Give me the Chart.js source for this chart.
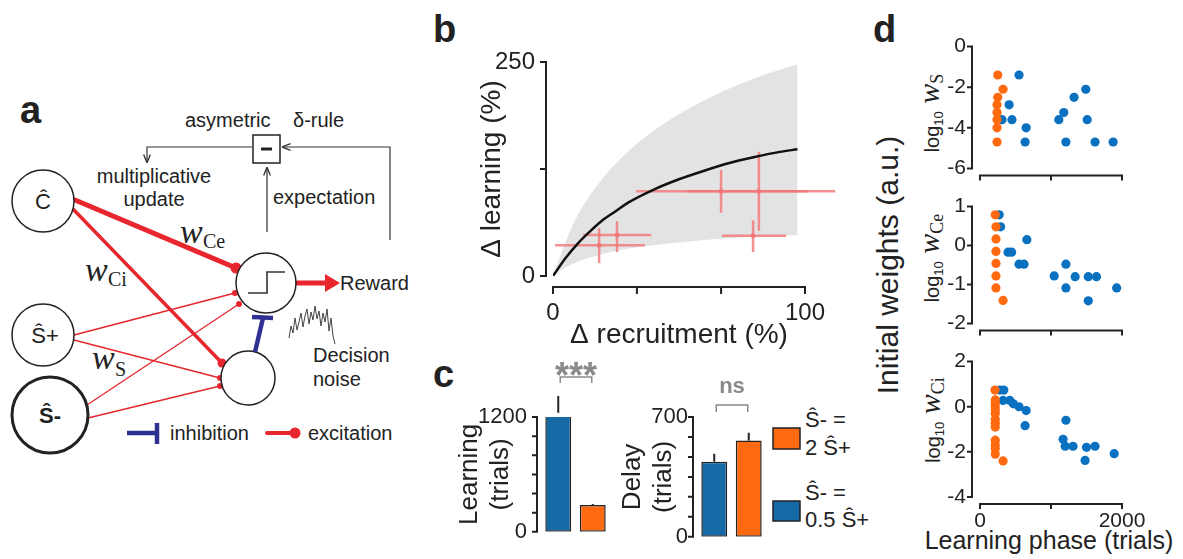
<!DOCTYPE html>
<html>
<head>
<meta charset="utf-8">
<script src="https://cdn.jsdelivr.net/npm/chart.js@4.4.1/dist/chart.umd.min.js"></script>
<style>
  html, body { margin: 0; padding: 0; background: #fff; }
  #fig { position: relative; width: 1183px; height: 559px; overflow: hidden; background: #fff; }
  #fig canvas { position: absolute; }
  #art { position: absolute; left: 0; top: 0; }
</style>
</head>
<body>
<div id="fig">
<svg id="art" width="1183" height="559" font-family="Liberation Sans, Arial, sans-serif" fill="#222">
  <defs>
    <marker id="ah" viewBox="0 0 10 10" refX="9" refY="5" markerWidth="7" markerHeight="7" orient="auto">
      <path d="M0,1 L10,5 L0,9" fill="none" stroke="#333" stroke-width="1.6"/>
    </marker>
  </defs>

  <!-- panel letters -->
  <g font-weight="bold" font-size="38">
    <text x="20" y="123">a</text>
    <text x="433" y="42">b</text>
    <text x="433" y="387">c</text>
    <text x="873" y="42">d</text>
  </g>

  <!-- panel a: network sketch -->
  <g font-size="20">
    <text x="185" y="127">asymetric</text>
    <text x="293" y="127">δ-rule</text>
    <text x="154" y="183" text-anchor="middle">multiplicative</text>
    <text x="154" y="206" text-anchor="middle">update</text>
    <text x="273" y="204">expectation</text>
    <text x="340" y="290">Reward</text>
    <text x="313" y="362">Decision</text>
    <text x="313" y="386">noise</text>
    <text x="170" y="440">inhibition</text>
    <text x="308" y="440">excitation</text>
  </g>
  <rect x="253" y="135" width="27" height="28" fill="none" stroke="#222" stroke-width="1.5"/>
  <line x1="261" y1="149" x2="272" y2="149" stroke="#222" stroke-width="3"/>
  <g fill="none" stroke="#333" stroke-width="1.2">
    <path d="M252,147 H147 V162" marker-end="url(#ah)"/>
    <path d="M390,240 V147 H283" marker-end="url(#ah)"/>
    <path d="M267,232 V168" marker-end="url(#ah)"/>
  </g>

  <!-- red connections -->
  <g stroke="#e8262d" fill="none" stroke-linecap="round">
    <line x1="75" y1="200" x2="236" y2="268" stroke-width="5"/>
    <line x1="72" y1="208" x2="222" y2="363" stroke-width="3.5"/>
    <line x1="74" y1="335" x2="235" y2="293" stroke-width="1.3"/>
    <line x1="74" y1="340" x2="220" y2="378" stroke-width="1.3"/>
    <line x1="87" y1="405" x2="239" y2="304" stroke-width="1.3"/>
    <line x1="88" y1="418" x2="220" y2="386" stroke-width="1.3"/>
    <line x1="297" y1="283" x2="328" y2="283" stroke-width="5"/>
    <line x1="267" y1="433" x2="292" y2="433" stroke-width="4"/>
  </g>
  <g fill="#e8262d">
    <circle cx="236" cy="268" r="5.5"/>
    <circle cx="222" cy="363" r="4.5"/>
    <circle cx="235" cy="293" r="3"/>
    <circle cx="220" cy="378" r="3"/>
    <circle cx="239" cy="304" r="3"/>
    <circle cx="220" cy="386" r="3"/>
    <circle cx="295" cy="433" r="5.5"/>
    <polygon points="325,274 340,283 325,292"/>
  </g>

  <!-- nodes -->
  <g fill="#fff" stroke="#222" stroke-width="1.5">
    <circle cx="43" cy="201" r="31"/>
    <circle cx="43" cy="335" r="31"/>
    <circle cx="50" cy="415" r="38" stroke-width="3"/>
    <circle cx="266" cy="283" r="30"/>
    <circle cx="248" cy="378" r="27"/>
  </g>
  <g font-size="22" text-anchor="middle">
    <text x="43" y="209">Ĉ</text>
    <text x="45" y="343">Ŝ+</text>
    <text x="50" y="423" font-weight="bold">Ŝ-</text>
  </g>
  <polyline points="248,293 267,293 267,272 285,272" fill="none" stroke="#333" stroke-width="1.6"/>

  <!-- inhibition -->
  <g stroke="#2e3192" stroke-width="4.5" fill="none">
    <line x1="255" y1="352" x2="263" y2="318"/>
    <line x1="252" y1="317" x2="273" y2="318"/>
    <line x1="127" y1="433" x2="157" y2="433"/>
    <line x1="157" y1="423" x2="157" y2="444"/>
  </g>

  <!-- decision noise trace -->
  <polyline fill="none" stroke="#444" stroke-width="1"
    points="289,338 291,326 293,333 295,318 297,330 299,322 301,313 303,327 305,316 307,309 309,324 311,312 313,320 315,306 317,319 319,311 321,326 323,313 325,322 327,309 329,331 331,318 333,336 335,344"/>

  <!-- weight labels -->
  <g font-family="Liberation Serif, serif">
    <text x="180" y="243" font-size="34" font-style="italic">w</text>
    <text x="203" y="248" font-size="20">Ce</text>
    <text x="85" y="281" font-size="34" font-style="italic">w</text>
    <text x="108" y="286" font-size="20">Ci</text>
    <text x="92" y="369" font-size="34" font-style="italic">w</text>
    <text x="115" y="376" font-size="20">S</text>
  </g>

  <!-- panel c legend -->
  <rect x="773" y="428" width="27" height="21" fill="#ff6a10" stroke="#222" stroke-width="1.5"/>
  <rect x="773" y="501" width="27" height="20" fill="#156aa6" stroke="#222" stroke-width="1.5"/>
  <g font-size="22">
    <text x="805" y="427">Ŝ- =</text>
    <text x="805" y="455">2 Ŝ+</text>
    <text x="805" y="500">Ŝ- =</text>
    <text x="805" y="527">0.5 Ŝ+</text>
  </g>

  <!-- panel d labels -->
  <text transform="translate(898,265) rotate(-90)" text-anchor="middle" font-size="30">Initial weights (a.u.)</text>
  <text transform="translate(939,113) rotate(-90)" text-anchor="middle" font-size="20">log<tspan font-size="13" dy="4">10</tspan><tspan dy="-4" font-family="Liberation Serif, serif" font-style="italic" font-size="30"> w</tspan><tspan font-family="Liberation Serif, serif" font-size="18" dy="4">S</tspan></text>
  <text transform="translate(939,258) rotate(-90)" text-anchor="middle" font-size="20">log<tspan font-size="13" dy="4">10</tspan><tspan dy="-4" font-family="Liberation Serif, serif" font-style="italic" font-size="30"> w</tspan><tspan font-family="Liberation Serif, serif" font-size="18" dy="4">Ce</tspan></text>
  <text transform="translate(940,420) rotate(-90)" text-anchor="middle" font-size="20">log<tspan font-size="13" dy="4">10</tspan><tspan dy="-4" font-family="Liberation Serif, serif" font-style="italic" font-size="30"> w</tspan><tspan font-family="Liberation Serif, serif" font-size="18" dy="4">Ci</tspan></text>
  <text x="1049" y="549" text-anchor="middle" font-size="25">Learning phase (trials)</text>
</svg>
</div>

<script>
'use strict';

// ---- data ----

// panel b: model curve, its spread, and the measured points (with error crosses)
const bandX = [0, 5, 10, 20, 30, 40, 50, 60, 70, 80, 90, 97];
const bandUpper = [0, 40, 72, 115, 146, 170, 189, 205, 219, 231, 241, 247];
const bandLower = [0, 10, 17, 26, 32, 36, 39, 42, 44, 46, 47, 48];
const fitX = [0, 5, 10, 15, 20, 25, 30, 40, 50, 60, 70, 80, 90, 97];
const fitY = [0, 21, 38.5, 53, 66, 76, 86, 101, 113, 123, 132, 139, 145, 148];

const recruit = [18.3, 25.4, 66.7, 81.7, 79.4];
const recruitLo = [0.8, 12, 33, 53, 67];
const recruitHi = [36.5, 39, 101, 112, 92.5];
const learning = [36, 48, 99, 99, 47];
const learningLo = [15, 28, 74, 53, 28];
const learningHi = [56, 64, 124, 145, 65];

const bXTicks = [0, 33.3, 66.7, 100];
const bXLabels = ['0', '', '', '100'];
const bYTicks = [0, 125, 250];
const bYLabels = ['0', '', '250'];

// panel c: bars (blue = Ŝ- = 0.5 Ŝ+, orange = Ŝ- = 2 Ŝ+)
const barCats = ['Ŝ- = 0.5 Ŝ+', 'Ŝ- = 2 Ŝ+'];
const barColors = ['#156aa6', '#ff6a10'];
const learnTrials = [1244, 280];
const learnErr = [175, 10];
const delayTrials = [439, 562];
const delayErr = [46, 46];
const learnTicks = [0, 200, 400, 600, 800, 1000, 1200];
const learnLabels = ['0', '', '', '', '', '', '1200'];
const delayTicks = [0, 116.7, 233.3, 350, 466.7, 583.3, 700];
const delayLabels = ['0', '', '', '', '', '', '700'];

// panel d: initial weights vs learning phase
const orangeSx = [250, 325, 250, 240, 240, 240, 240, 240];
const orangeSy = [-1.4, -2.1, -2.5, -2.87, -3.25, -3.6, -4.0, -4.7];
const blueSx = [550, 410, 310, 450, 650, 635, 1490, 1325, 1180, 1110, 1510, 1210, 1620, 1875];
const blueSy = [-1.4, -2.87, -3.6, -3.6, -4.0, -4.7, -2.1, -2.5, -3.25, -3.6, -3.6, -4.7, -4.7, -4.7];

const orangeCex = [215, 225, 225, 225, 225, 225, 225, 325];
const orangeCey = [0.79, 0.48, 0.17, -0.15, -0.46, -0.78, -1.09, -1.41];
const blueCex = [270, 290, 660, 395, 445, 550, 620, 1210, 1045, 1340, 1525, 1640, 1210, 1925, 1525];
const blueCey = [0.79, 0.48, 0.15, -0.17, -0.17, -0.48, -0.48, -0.48, -0.78, -0.8, -0.8, -0.8, -1.09, -1.09, -1.42];

const orangeCix = [211, 215, 215, 215, 215, 215, 215, 215, 215, 215, 215, 215, 215, 325];
const orangeCiy = [0.74, 0.3, 0.15, 0, -0.15, -0.3, -0.56, -0.73, -0.9, -1.48, -1.7, -1.85, -2.1, -2.4];
const blueCix = [280, 335, 325, 420, 470, 550, 650, 635, 1210, 1170, 1200, 1310, 1500, 1620, 1480, 1890];
const blueCiy = [0.74, 0.74, 0.28, 0.28, 0.13, 0, -0.17, -0.84, -0.6, -1.44, -1.75, -1.75, -1.8, -1.75, -2.38, -2.08];

const phaseTicks = [0, 1000, 2000];
const phaseLabels = ['0', '', '2000'];

// ---- helpers ----

const fig = document.getElementById('fig');
const ink = '#222';

Chart.defaults.font.family = "'Liberation Sans', Arial, sans-serif";
Chart.defaults.color = ink;

function makeCanvas(left, top, w, h) {
  const c = document.createElement('canvas');
  c.width = w;
  c.height = h;
  c.style.left = left + 'px';
  c.style.top = top + 'px';
  c.style.width = w + 'px';
  c.style.height = h + 'px';
  fig.appendChild(c);
  return c;
}

function xy(xs, ys) {
  return xs.map((x, i) => ({ x: x, y: ys[i] }));
}

// R-style detached axis lines with outward ticks
const spines = {
  id: 'spines',
  afterDraw(chart, args, o) {
    const { ctx, chartArea: a, scales } = chart;
    ctx.save();
    ctx.strokeStyle = ink;
    ctx.lineWidth = 2;
    if (o.y) {
      const x0 = a.left - o.y.offset;
      const px = o.y.ticks.map(v => scales.y.getPixelForValue(v));
      ctx.beginPath();
      ctx.moveTo(x0, Math.min(...px) - 1);
      ctx.lineTo(x0, Math.max(...px) + 1);
      px.forEach(p => { ctx.moveTo(x0, p); ctx.lineTo(x0 - o.y.len, p); });
      ctx.stroke();
    }
    if (o.x) {
      const y0 = a.bottom + o.x.offset;
      const px = o.x.ticks.map(v => scales.x.getPixelForValue(v));
      ctx.beginPath();
      ctx.moveTo(Math.min(...px) - 1, y0);
      ctx.lineTo(Math.max(...px) + 1, y0);
      px.forEach(p => { ctx.moveTo(p, y0); ctx.lineTo(p, y0 + o.x.len); });
      ctx.stroke();
    }
    ctx.restore();
  }
};

// error whiskers and significance bracket on the bar charts
const barExtras = {
  id: 'barExtras',
  afterDatasetsDraw(chart, args, o) {
    if (!o.err) return;
    const { ctx, chartArea: a } = chart;
    const ys = chart.scales.y;
    const bars = chart.getDatasetMeta(0).data;
    const vals = chart.data.datasets[0].data;
    ctx.save();
    ctx.strokeStyle = ink;
    ctx.lineWidth = 2;
    bars.forEach((b, i) => {
      ctx.beginPath();
      ctx.moveTo(b.x, ys.getPixelForValue(vals[i]));
      ctx.lineTo(b.x, ys.getPixelForValue(vals[i] + o.err[i]));
      ctx.stroke();
    });
    const x1 = bars[0].x + 2, x2 = bars[1].x - 1;
    const top = a.top - o.sig.bracket;
    ctx.strokeStyle = '#8a8a8a';
    ctx.lineWidth = 1.5;
    ctx.beginPath();
    ctx.moveTo(x1, top + o.sig.leg);
    ctx.lineTo(x1, top);
    ctx.lineTo(x2, top);
    ctx.lineTo(x2, top + o.sig.leg);
    ctx.stroke();
    ctx.fillStyle = '#8a8a8a';
    ctx.font = 'bold ' + o.sig.size + "px 'Liberation Sans', Arial, sans-serif";
    ctx.textAlign = 'center';
    ctx.textBaseline = 'alphabetic';
    ctx.fillText(o.sig.text, (x1 + x2) / 2, a.top - o.sig.base);
    ctx.restore();
  }
};

Chart.register(spines, barExtras);

function tickScale(ticks, labels, font, pad, extra) {
  return Object.assign({
    grid: { display: false, drawTicks: false },
    border: { display: false },
    afterBuildTicks: s => { s.ticks = ticks.map(v => ({ value: v })); },
    ticks: { autoSkip: false, maxRotation: 0, color: ink, font: { size: font }, padding: pad,
             callback: (v, i) => labels[i] }
  }, extra);
}

const baseOpts = {
  responsive: false,
  animation: false,
  devicePixelRatio: 1,
  events: []
};

// ---- panel b ----

const crossColor = 'rgba(243, 118, 118, 0.8)';
const crossSets = [];
recruit.forEach((x, i) => {
  crossSets.push({
    data: [{ x: recruitLo[i], y: learning[i] }, { x: recruitHi[i], y: learning[i] }],
    borderColor: crossColor, borderWidth: 2.5, pointRadius: 0, clip: false, order: 5
  });
  crossSets.push({
    data: [{ x: x, y: learningLo[i] }, { x: x, y: learningHi[i] }],
    borderColor: crossColor, borderWidth: 2.5, pointRadius: 0, clip: false, order: 5
  });
});

new Chart(makeCanvas(420, 20, 430, 340), {
  type: 'line',
  data: {
    datasets: [
      { data: xy(bandX, bandLower), borderWidth: 0, pointRadius: 0, fill: false,
        cubicInterpolationMode: 'monotone', order: 10 },
      { data: xy(bandX, bandUpper), borderWidth: 0, pointRadius: 0, fill: '-1',
        backgroundColor: '#e3e3e3', cubicInterpolationMode: 'monotone', order: 9 },
      ...crossSets,
      { data: xy(recruit, learning), showLine: false, pointRadius: 2.5, pointBorderWidth: 0,
        pointBackgroundColor: crossColor, order: 4 },
      { data: xy(fitX, fitY), borderColor: '#111', borderWidth: 2.5, pointRadius: 0,
        cubicInterpolationMode: 'monotone', order: 1 }
    ]
  },
  options: Object.assign({}, baseOpts, {
    layout: { padding: { top: 42, right: 45, left: 0, bottom: 0 } },
    plugins: {
      legend: { display: false }, tooltip: { enabled: false },
      spines: { x: { offset: 11, len: 7, ticks: bXTicks }, y: { offset: 7, len: 6, ticks: bYTicks } }
    },
    scales: {
      x: tickScale(bXTicks, bXLabels, 24, 23, {
        type: 'linear', min: 0, max: 100,
        afterFit: s => { s.height = 84; },
        title: { display: true, text: 'Δ recruitment (%)', color: ink, font: { size: 28 },
                 padding: { top: 0, bottom: 8 } }
      }),
      y: tickScale(bYTicks, bYLabels, 24, 18, {
        min: 0, max: 250,
        afterFit: s => { s.width = 133; },
        title: { display: true, text: 'Δ learning (%)', color: ink, font: { size: 28 },
                 padding: { top: 55, bottom: 0 } }
      })
    }
  })
});

// ---- panel c ----

function makeBars(left, w, yWidth, rightPad, values, errs, ticks, labels, max, title, titlePad, tickPad, sig) {
  return new Chart(makeCanvas(left, 340, w, 219), {
    type: 'bar',
    data: {
      labels: barCats,
      datasets: [{
        data: values,
        backgroundColor: barColors,
        borderColor: ink,
        borderWidth: 1.5,
        borderSkipped: false,
        barPercentage: 0.75,
        categoryPercentage: 1
      }]
    },
    options: Object.assign({}, baseOpts, {
      layout: { padding: { top: 77, right: rightPad, left: 0, bottom: 5 } },
      plugins: {
        legend: { display: false }, tooltip: { enabled: false },
        spines: { y: { offset: 4, len: 5, ticks: ticks } },
        barExtras: { err: errs, sig: sig }
      },
      scales: {
        x: { display: false },
        y: tickScale(ticks, labels, 22, tickPad, {
          min: 0, max: max,
          afterFit: s => { s.width = yWidth; },
          title: { display: true, text: title, color: ink, font: { size: 26 }, padding: { top: titlePad, bottom: 0 } }
        })
      }
    })
  });
}

makeBars(420, 200, 121, 10, learnTrials, learnErr, learnTicks, learnLabels, 1200,
  ['Learning', '(trials)'], 34, 14, { text: '***', size: 36, base: 29, bracket: 40, leg: 6 });
makeBars(600, 180, 97, 14, delayTrials, delayErr, delayTicks, delayLabels, 700,
  ['Delay', '(trials)'], 17, 9, { text: 'ns', size: 22, base: 24, bracket: 12, leg: 7 });

// ---- panel d ----

function makeScatter(top, h, padTop, padBottom, ymin, ymax, yTicks, ox, oy, bx, by, withX) {
  const xScale = withX
    ? tickScale(phaseTicks, phaseLabels, 21, 12, {
        type: 'linear', min: 0, max: 2000,
        afterFit: s => { s.height = 62; }
      })
    : { type: 'linear', min: 0, max: 2000, display: false };
  return new Chart(makeCanvas(920, top, 263, h), {
    type: 'scatter',
    data: {
      datasets: [
        { data: xy(ox, oy), backgroundColor: '#ff6a10', pointRadius: 4.6, pointBorderWidth: 0, order: 1 },
        { data: xy(bx, by), backgroundColor: '#0a70c0', pointRadius: 4.6, pointBorderWidth: 0, order: 2 }
      ]
    },
    options: Object.assign({}, baseOpts, {
      layout: { padding: { top: padTop, right: 61, left: 0, bottom: padBottom } },
      plugins: {
        legend: { display: false }, tooltip: { enabled: false },
        spines: { x: { offset: 7, len: 5, ticks: phaseTicks }, y: { offset: 8, len: 5, ticks: yTicks } }
      },
      scales: {
        x: xScale,
        y: tickScale(yTicks, yTicks.map(String), 21, 14, {
          min: ymin, max: ymax,
          afterFit: s => { s.width = 60; }
        })
      }
    })
  });
}

makeScatter(20, 175, 18, 15, -6, 0, [0, -2, -4, -6], orangeSx, orangeSy, blueSx, blueSy, false);
makeScatter(180, 170, 16, 12, -2, 1, [1, 0, -1, -2], orangeCex, orangeCey, blueCex, blueCey, false);
makeScatter(335, 224, 19, 0, -4, 2, [2, 0, -2, -4], orangeCix, orangeCiy, blueCix, blueCiy, true);
</script>
</body>
</html>
